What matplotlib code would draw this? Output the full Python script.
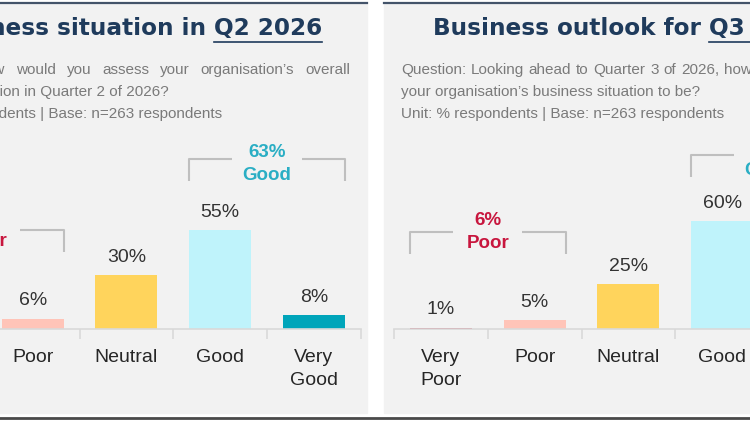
import matplotlib
matplotlib.use("Agg")
import matplotlib.pyplot as plt
from matplotlib.patches import Rectangle
from matplotlib.lines import Line2D

# canvas size in pixels (dpi 100)
W, H = 750, 422

categories = ["Very\nPoor", "Poor", "Neutral", "Good", "Very\nGood"]
q2_values = [1, 6, 30, 55, 8]
q3_values = [1, 5, 25, 60, 9]
q2_poor_total = 7
q2_good_total = 63
q3_poor_total = 6
q3_good_total = 69

q2_title = "Business situation in Q2 2026"
q3_title = "Business outlook for Q3 2026"
q2_underlined = "Q2 2026"
q3_underlined = "Q3 2026"

q2_lines = ["Question: How would you assess your organisation\u2019s overall",
            "business situation in Quarter 2 of 2026?",
            "Unit: % respondents | Base: n=263 respondents"]
q3_lines = ["Question: Looking ahead to Quarter 3 of 2026, how do you expect",
            "your organisation\u2019s business situation to be?",
            "Unit: % respondents | Base: n=263 respondents"]

bar_colors = ["#c8324f", "#ffc4b8", "#ffd45c", "#bff3fb", "#00a5ba"]
poor_color = "#c8163e"
good_color = "#2aaec4"
navy = "#1f3b5c"
body_font = "Liberation Sans"

fig = plt.figure(figsize=(W / 100, H / 100), dpi=100, facecolor="white")
renderer = fig.canvas.get_renderer()


def fx(x):
    return x / W


def fy(y):
    return 1 - y / H


def text_width(t):
    return t.get_window_extent(renderer=renderer).width


def justified(words, x0, x1, y, **kw):
    arts = [fig.text(0, fy(y), w, ha="left", va="center", **kw) for w in words]
    widths = [text_width(a) for a in arts]
    gap = (x1 - x0 - sum(widths)) / (len(words) - 1)
    x = x0
    for a, w in zip(arts, widths):
        a.set_x(fx(x))
        x += w + gap


def bracket(ax, i, j, y, label, color, text_dy=0):
    xl, xr, xc = i - 0.33, j + 0.33, (i + j) / 2
    gap, leg = 0.37, 12.2
    kw = dict(color="#bfbfbf", lw=1.5, clip_on=False, solid_capstyle="butt")
    ax.plot([xl, xl, xc - gap], [y - leg, y, y], **kw)
    ax.plot([xc + gap, xr, xr], [y, y, y - leg], **kw)
    ax.text(xc, y + text_dy, label, ha="center", va="center", color=color,
            fontsize=13.5, fontweight="bold", family=body_font,
            linespacing=1.45, clip_on=False)


def draw_panel(px0, values, poor_total, good_total, title, uline, lines,
               title_x, title_ha, poor_y, good_y):
    pw = 485
    fig.patches.append(Rectangle((fx(px0), fy(413)), pw / W, 409 / H,
                                 transform=fig.transFigure, color="#f2f2f2", zorder=-2))
    fig.lines.append(Line2D([fx(px0), fx(px0 + pw)], [fy(2.8), fy(2.8)],
                            transform=fig.transFigure, color="#44546a", lw=1.6,
                            zorder=-1))

    # title with underlined quarter
    t = fig.text(fx(title_x), fy(29), title, ha=title_ha, va="center",
                 family="DejaVu Sans", fontweight="bold", fontsize=16.7, color=navy)
    tmp = fig.text(0, 0, uline, family="DejaVu Sans", fontweight="bold", fontsize=16.7)
    wf, wu = text_width(t), text_width(tmp)
    tmp.remove()
    if title_ha == "right":
        u0, u1 = title_x - wu, title_x
    else:
        u0, u1 = title_x + wf - wu, title_x + wf
    fig.lines.append(Line2D([fx(u0), fx(u1)], [fy(42), fy(42)],
                            transform=fig.transFigure, color=navy, lw=1.2))

    # question / unit text
    sub = dict(family=body_font, fontsize=11, color="#7a7a7a")
    tx = px0 + 17
    justified(lines[0].split(" "), tx, tx + 451, 70, **sub)
    fig.text(fx(tx), fy(92), lines[1], ha="left", va="center", **sub)
    fig.text(fx(tx), fy(114), lines[2], ha="left", va="center", **sub)

    # bars
    ax = fig.add_axes([fx(px0 + 10), fy(329.3), 468.8 / W, 198 / H])
    ax.set_facecolor("none")
    x = list(range(len(categories)))
    ax.bar(x, values, width=0.66, color=bar_colors)
    ax.set_xlim(-0.5, 4.5)
    ax.set_ylim(0, 110)
    for s in ["top", "left", "right"]:
        ax.spines[s].set_visible(False)
    ax.spines["bottom"].set_color("#d9d9d9")
    ax.spines["bottom"].set_linewidth(1.2)
    ax.set_yticks([])
    ax.set_xticks(x)
    ax.set_xticklabels(categories, family=body_font, fontsize=14,
                       color="#262626", linespacing=1.45)
    ax.set_xticks([v - 0.5 for v in range(6)], minor=True)
    ax.tick_params(axis="x", which="major", length=0, pad=14)
    ax.tick_params(axis="x", which="minor", length=7, color="#d9d9d9", width=1.2)
    for i, v in enumerate(values):
        ax.annotate(f"{v}%", (i, v), xytext=(0, 9.5), textcoords="offset points",
                    ha="center", va="baseline", fontsize=14, family=body_font,
                    color="#333333")
    bracket(ax, 0, 1, poor_y, f"{poor_total}%\nPoor", poor_color)
    bracket(ax, 3, 4, good_y, f"{good_total}%\nGood", good_color, text_dy=-2.5)
    return ax


draw_panel(-118, q2_values, q2_poor_total, q2_good_total, q2_title, q2_underlined,
           q2_lines, 322, "right", 55, 94.5)
draw_panel(384, q3_values, q3_poor_total, q3_good_total, q3_title, q3_underlined,
           q3_lines, 433, "left", 54, 97)

fig.lines.append(Line2D([0, 1], [fy(417.5), fy(417.5)], transform=fig.transFigure,
                        color="#4a4a4a", lw=2))

fig.savefig("out.png", dpi=100, facecolor="white")
